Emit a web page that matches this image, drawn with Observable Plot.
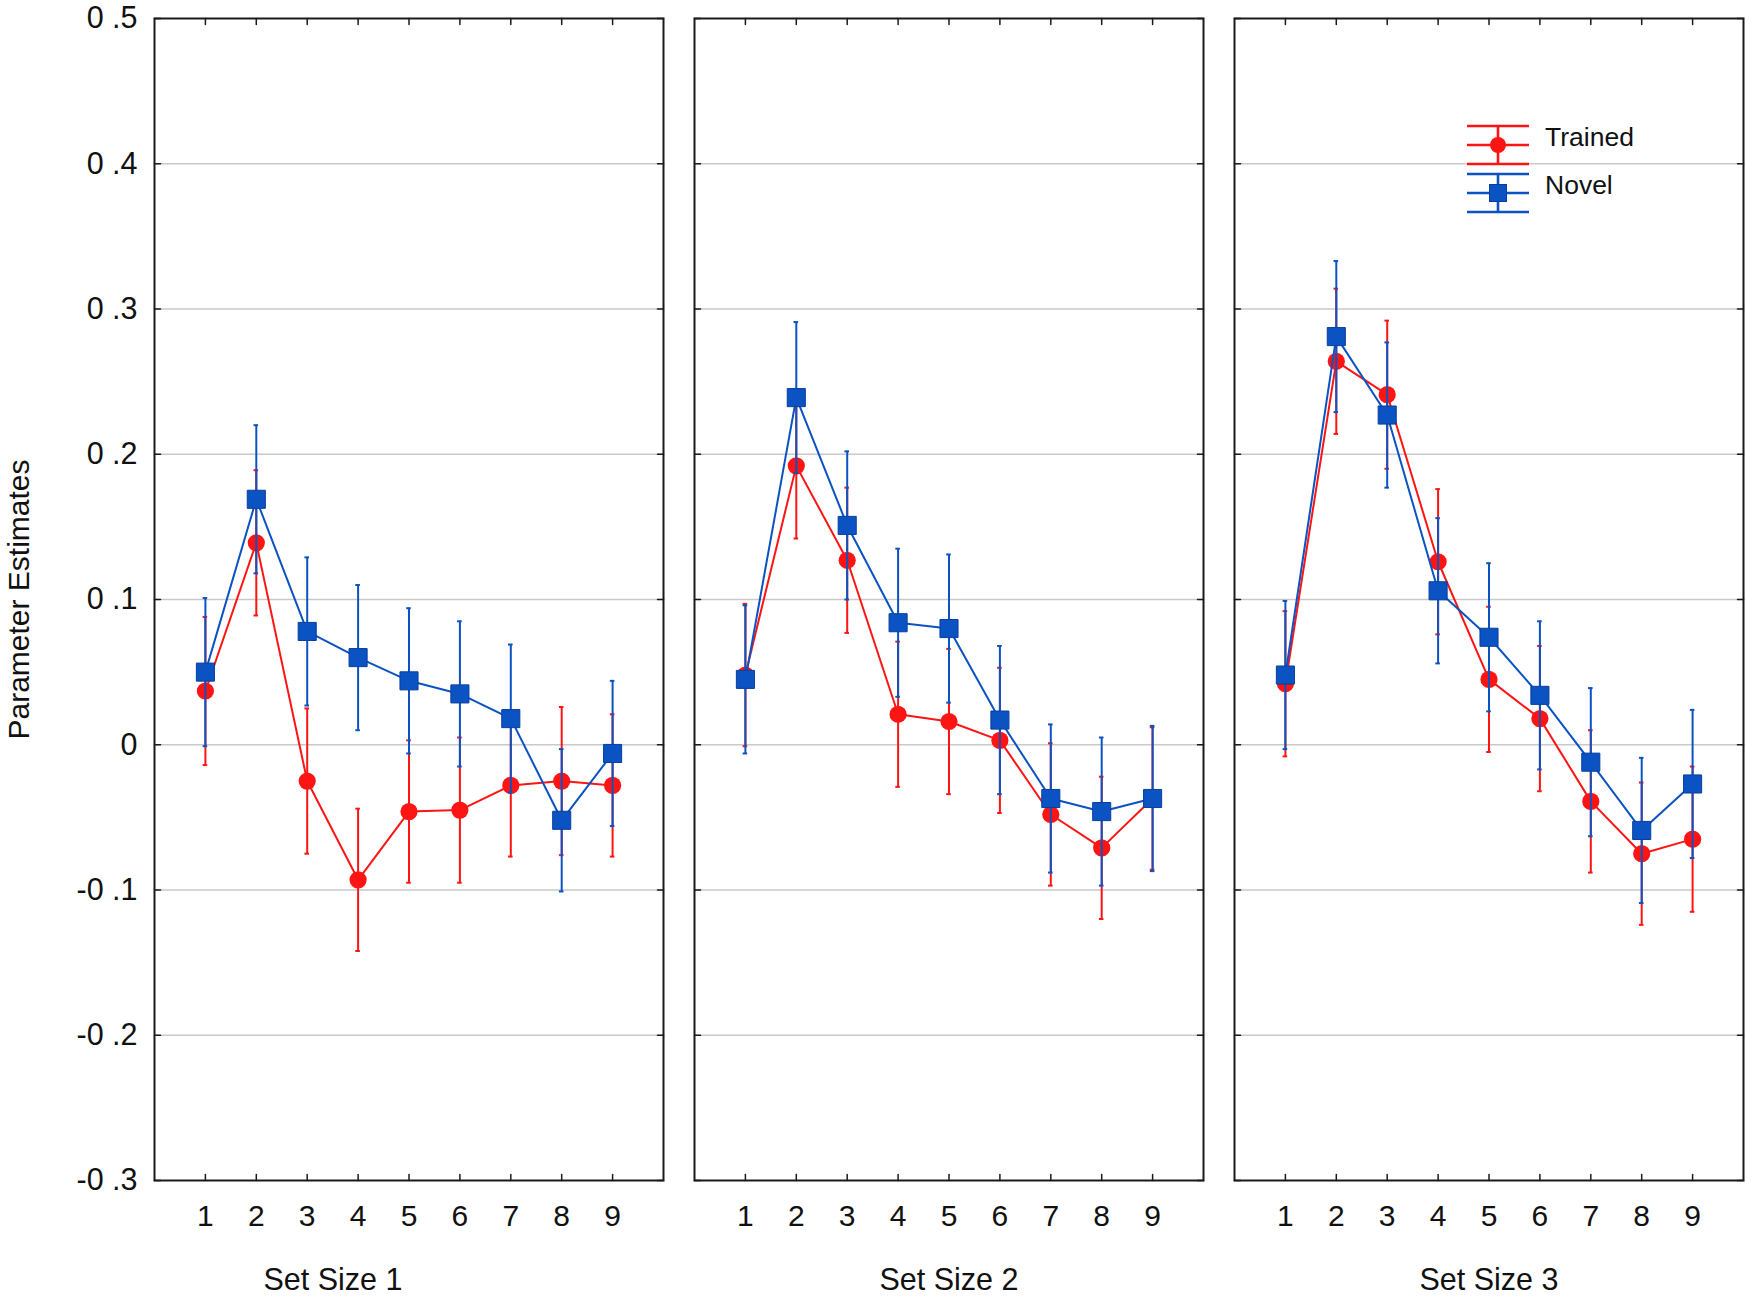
<!DOCTYPE html>
<html>
<head>
<meta charset="utf-8">
<script src="https://cdn.jsdelivr.net/npm/d3@7"></script>
<script src="https://cdn.jsdelivr.net/npm/@observablehq/plot@0.6"></script>
<style>
  body { margin: 0; background: #fff; }
  #chart { width: 1751px; height: 1296px; }
</style>
</head>
<body>
<div id="chart"></div>
<script>
// ---- data ----
const panels = ["Set Size 1", "Set Size 2", "Set Size 3"];
const seriesNames = ["Trained", "Novel"];
const positions = [1, 2, 3, 4, 5, 6, 7, 8, 9];
const yTicks = [-0.3, -0.2, -0.1, 0, 0.1, 0.2, 0.3, 0.4, 0.5];

const trained1    = [0.037, 0.139, -0.025, -0.093, -0.046, -0.045, -0.028, -0.025, -0.028];
const trainedErr1 = [0.051, 0.050, 0.050, 0.049, 0.049, 0.050, 0.049, 0.051, 0.049];
const novel1      = [0.050, 0.169, 0.078, 0.060, 0.044, 0.035, 0.018, -0.052, -0.006];
const novelErr1   = [0.051, 0.051, 0.051, 0.050, 0.050, 0.050, 0.051, 0.049, 0.050];

const trained2    = [0.048, 0.192, 0.127, 0.021, 0.016, 0.003, -0.048, -0.071, -0.037];
const trainedErr2 = [0.049, 0.050, 0.050, 0.050, 0.050, 0.050, 0.049, 0.049, 0.049];
const novel2      = [0.045, 0.239, 0.151, 0.084, 0.080, 0.017, -0.037, -0.046, -0.037];
const novelErr2   = [0.051, 0.052, 0.051, 0.051, 0.051, 0.051, 0.051, 0.051, 0.050];

const trained3    = [0.042, 0.264, 0.241, 0.126, 0.045, 0.018, -0.039, -0.075, -0.065];
const trainedErr3 = [0.050, 0.050, 0.051, 0.050, 0.050, 0.050, 0.049, 0.049, 0.050];
const novel3      = [0.048, 0.281, 0.227, 0.106, 0.074, 0.034, -0.012, -0.059, -0.027];
const novelErr3   = [0.051, 0.052, 0.050, 0.050, 0.051, 0.051, 0.051, 0.050, 0.051];

// ---- build table ----
const means = {Trained: [trained1, trained2, trained3], Novel: [novel1, novel2, novel3]};
const errs  = {Trained: [trainedErr1, trainedErr2, trainedErr3], Novel: [novelErr1, novelErr2, novelErr3]};
const rows = [];
seriesNames.forEach(s => panels.forEach((p, pi) => positions.forEach((x, i) => {
  const y = means[s][pi][i], e = errs[s][pi][i];
  rows.push({panel: p, series: s, x, y, lo: y - e, hi: y + e});
})));

const RED = "#ff1414", BLUE = "#0b52c2", BLUE_EDGE = "#083f9e";
const FONT = "'Liberation Sans', Arial, Helvetica, sans-serif";
const fmt = v => Math.abs(v) < 1e-9 ? "0" : (v < 0 ? "-" : "") + "0 ." + Math.round(Math.abs(v) * 10);
const tickShape = {draw(context, l) { context.moveTo(0, 0); context.lineTo(0, -l); }};
const tickStyle = {length: 6, anchor: "start", shape: tickShape, stroke: "#1a1a1a", strokeWidth: 1.5};

const seriesMarks = s => {
  const d = rows.filter(r => r.series === s);
  const c = s === "Trained" ? RED : BLUE;
  const capW = 0.045;
  return [
    Plot.line(d, {fx: "panel", x: "x", y: "y", stroke: c, strokeWidth: 2}),
    Plot.ruleX(d, {fx: "panel", x: "x", y1: "lo", y2: "hi", stroke: c, strokeWidth: 2}),
    Plot.ruleY(d, {fx: "panel", y: "hi", x1: r => r.x - capW, x2: r => r.x + capW, stroke: c, strokeWidth: 2}),
    Plot.ruleY(d, {fx: "panel", y: "lo", x1: r => r.x - capW, x2: r => r.x + capW, stroke: c, strokeWidth: 2}),
    s === "Trained"
      ? Plot.dot(d, {fx: "panel", x: "x", y: "y", r: 8.6, fill: c, stroke: null, symbol: "circle"})
      : Plot.dot(d, {fx: "panel", x: "x", y: "y", r: 10.2, fill: c, stroke: BLUE_EDGE, strokeWidth: 1, symbol: "square"})
  ];
};

const chart = Plot.plot({
  width: 1751,
  height: 1296,
  marginLeft: 153,
  marginRight: 8,
  marginTop: 18,
  marginBottom: 116,
  style: {fontFamily: FONT, fontSize: "30px", color: "#111", background: "#fff"},
  fx: {domain: panels, paddingInner: 31 / 540, paddingOuter: 0, axis: null, label: null},
  x: {domain: [0, 10], axis: null},
  y: {domain: [-0.3, 0.5], axis: null},
  marks: [
    Plot.gridY(yTicks.slice(1, -1), {stroke: "#c9c9c9", strokeOpacity: 1, strokeWidth: 1.6}),
    Plot.frame({stroke: "#1a1a1a", strokeWidth: 2}),
    // inward ticks on all four sides of each panel
    Plot.vector(yTicks, {y: d => d, frameAnchor: "left", rotate: 90, ...tickStyle}),
    Plot.vector(yTicks, {y: d => d, frameAnchor: "right", rotate: -90, ...tickStyle}),
    Plot.vector(positions, {x: d => d, frameAnchor: "top", rotate: 180, ...tickStyle}),
    Plot.vector(positions, {x: d => d, frameAnchor: "bottom", rotate: 0, ...tickStyle}),
    // axes labels
    Plot.axisY(yTicks, {anchor: "left", tickSize: 0, tickPadding: 17, tickFormat: fmt, fontSize: 30.5, label: null}),
    Plot.axisX(positions, {anchor: "bottom", tickSize: 0, tickPadding: 24, fontSize: 30, label: null}),
    Plot.text(["Parameter Estimates"], {fx: () => panels[0], text: d => d, frameAnchor: "left", textAnchor: "middle", lineAnchor: "middle", rotate: -90, dx: -135, fontSize: 30, fill: "#111"}),
    Plot.text(panels.slice(0, 1), {fx: d => d, text: d => d, frameAnchor: "bottom", lineAnchor: "middle", dy: 100, dx: -76, fontSize: 30.5, fill: "#111"}),
    Plot.text(panels.slice(1), {fx: d => d, text: d => d, frameAnchor: "bottom", lineAnchor: "middle", dy: 100, fontSize: 30.5, fill: "#111"}),
    ...seriesMarks("Trained"),
    ...seriesMarks("Novel")
  ]
});
document.getElementById("chart").append(chart);

// ---- legend (inside the third panel, top right) ----
const svg = d3.select(chart);
const leg = svg.append("g").attr("class", "legend");
const legendItems = [
  {name: "Trained", color: RED, symbol: "circle", yMid: 145, textY: 137},
  {name: "Novel", color: BLUE, symbol: "square", yMid: 193, textY: 185}
];
legendItems.forEach(it => {
  const g = leg.append("g").attr("stroke", it.color).attr("stroke-width", 2.6);
  [-19, 0, 19].forEach(o => g.append("line").attr("x1", 1467).attr("x2", 1529).attr("y1", it.yMid + o).attr("y2", it.yMid + o));
  g.append("line").attr("x1", 1498).attr("x2", 1498).attr("y1", it.yMid - 19).attr("y2", it.yMid + 19);
  if (it.symbol === "circle") {
    leg.append("circle").attr("cx", 1498).attr("cy", it.yMid).attr("r", 8).attr("fill", it.color);
  } else {
    leg.append("rect").attr("x", 1489.5).attr("y", it.yMid - 8.5).attr("width", 17).attr("height", 17)
      .attr("fill", it.color).attr("stroke", BLUE_EDGE).attr("stroke-width", 1);
  }
  leg.append("text").attr("x", 1545).attr("y", it.textY).attr("dy", "0.35em")
    .attr("text-anchor", "start")
    .attr("font-size", 26.5).attr("font-family", FONT).attr("fill", "#111").text(it.name);
});
</script>
</body>
</html>
